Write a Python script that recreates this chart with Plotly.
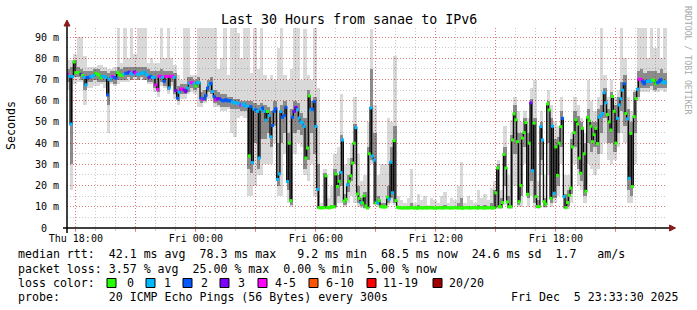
import plotly.graph_objects as go
import pandas as pd

# ---------------- data ----------------
TITLE = "Last 30 Hours from sanae to IPv6"
X_RANGE = ["2025-12-04 17:33:30", "2025-12-05 23:33:30"]
MEDIAN_START = "2025-12-04 17:35:00"   # 5-minute steps
SMOKE_START = "2025-12-04 17:37:30"    # 10-minute smoke columns

# median rtt (ms), one value per 5 minutes
median_ms = [
    72.5, 71.5, 49, 71.4, 78.3, 73.3, 73.3, 73, 72.5, 72, 71, 67.5,
    71, 71, 71.5, 71.5, 72, 73, 72.5, 72, 70.8, 71.5, 71.5, 71,
    62.7, 70, 71, 71.5, 71, 70.6, 73.3, 72.5, 72, 72, 72.5, 73,
    73, 73.5, 73, 72.5, 73.5, 73, 72.5, 72.5, 73, 73, 73.5, 72.5,
    72, 71, 71.5, 71, 71, 67.5, 65.4, 71.5, 71.5, 71, 69.1, 71.5,
    71.5, 66, 71.5, 71.5, 71, 64.8, 61.2, 64, 65.5, 65.5, 65, 64.3,
    66, 68.2, 68.5, 68.5, 68, 67, 68.5, 68.5, 61.2, 60.7, 61, 62.4,
    65.9, 67.5, 68.2, 64.3, 61.9, 60.4, 61, 61, 60.5, 60, 60, 60.5,
    60, 60, 60, 59.5, 59.1, 59, 58.8, 58.5, 57.9, 58, 58.5, 57.5,
    57.5, 34, 57.2, 30.8, 56, 55.7, 55, 33, 56, 56.6, 55, 50.9,
    54.9, 53, 43, 48.3, 55, 56.3, 22.9, 25.5, 54.9, 52.2, 53, 56.9,
    21.9, 40, 12.9, 52.2, 55, 56.9, 55.7, 51.9, 50, 49.5, 47.9, 33,
    37.7, 62.3, 55.7, 56, 59.6, 47.9, 18.2, 9.6, 9.5, 9.5, 9.6, 24.6,
    9.6, 9.5, 9.8, 10, 10, 25.5, 19.6, 22, 26.2, 41.5, 12.7, 13.5,
    20.4, 22, 24.6, 30.6, 40, 47.3, 16, 14, 12, 11.8, 15.2, 10.4,
    9.4, 35, 56.6, 33.9, 32, 11.8, 12, 13, 10, 10, 9.8, 10,
    14.5, 13.7, 31, 16.6, 41.2, 12.9, 9.8, 9.5, 9.5, 9.4, 9.5, 9.5,
    9.4, 9.5, 9.5, 9.6, 9.4, 9.5, 9.3, 9.5, 9.6, 9.4, 9.5, 9.5,
    9.4, 9.6, 9.5, 9.5, 9.4, 9.3, 9.5, 9.6, 9.5, 9.4, 9.5, 9.5,
    9.6, 9.5, 9.4, 9.5, 9.5, 9.6, 9.4, 9.5, 9.5, 9.3, 9.5, 9.6,
    9.5, 9.4, 9.5, 9.5, 9.6, 9.5, 9.4, 9.5, 9.6, 9.5, 9.4, 9.5,
    9.5, 9.6, 9.5, 9.4, 9.5, 16.6, 28.3, 10, 10, 12, 34.7, 28.3,
    12.3, 10, 10, 41.5, 53.8, 51, 40.7, 12.4, 20, 42.4, 45, 49.7,
    15.9, 40, 59, 27, 49.4, 14.8, 10.1, 10.1, 47.8, 41.5, 12.4, 11.3,
    58.5, 55.7, 14, 48, 16.4, 38.2, 24.8, 40, 47.8, 51.7, 14.8, 9.6,
    12, 15.4, 18.8, 38.2, 45, 51, 49, 32.9, 25.8, 47, 35, 17.3,
    52.2, 50.6, 48, 40.7, 44, 47, 39.8, 52.2, 53, 54, 63.8, 59,
    53.5, 50, 46.2, 62, 55, 40, 51.7, 58, 61, 65, 68, 54,
    51.4, 23.4, 44.6, 19.5, 52.5, 61, 65.4, 70.1, 70.1, 69, 68, 69,
    69, 69.5, 69, 69.8, 69.5, 68, 68.5, 69, 70, 68.5, 69, 68.5,
]

# lost pings (out of 20) per 5 minutes
loss = [
    4, 1, 1, 1, 0, 0, 0, 0, 3, 0, 1, 1,
    2, 2, 1, 1, 1, 0, 0, 0, 0, 1, 1, 1,
    2, 1, 1, 4, 2, 2, 0, 0, 0, 0, 1, 2,
    2, 3, 1, 1, 3, 4, 1, 1, 1, 1, 1, 1,
    1, 3, 2, 1, 1, 4, 4, 4, 4, 1, 2, 4,
    4, 1, 4, 4, 1, 3, 2, 1, 4, 4, 3, 3,
    1, 1, 4, 4, 1, 0, 1, 1, 2, 4, 2, 2,
    2, 1, 2, 1, 2, 4, 3, 3, 2, 2, 2, 2,
    2, 2, 2, 1, 1, 1, 1, 1, 4, 1, 1, 1,
    1, 0, 2, 1, 1, 2, 1, 1, 1, 2, 1, 1,
    0, 1, 1, 2, 2, 2, 1, 1, 1, 2, 2, 2,
    1, 0, 0, 2, 3, 3, 1, 1, 1, 1, 1, 0,
    0, 0, 1, 2, 2, 1, 1, 0, 0, 0, 0, 0,
    0, 0, 0, 0, 0, 0, 0, 0, 1, 1, 0, 0,
    1, 0, 0, 0, 0, 1, 0, 0, 1, 0, 0, 0,
    0, 0, 1, 1, 1, 0, 1, 0, 0, 0, 0, 0,
    0, 1, 1, 1, 0, 0, 0, 0, 0, 0, 0, 0,
    0, 0, 0, 0, 0, 0, 0, 0, 0, 0, 0, 0,
    0, 0, 0, 0, 0, 0, 0, 0, 0, 0, 0, 0,
    0, 0, 0, 0, 0, 0, 0, 0, 0, 0, 0, 0,
    0, 0, 0, 0, 0, 0, 0, 0, 0, 0, 0, 0,
    0, 0, 0, 0, 0, 0, 0, 0, 0, 0, 0, 0,
    0, 0, 0, 0, 0, 0, 0, 0, 0, 0, 0, 0,
    0, 0, 3, 1, 0, 0, 0, 0, 1, 1, 0, 0,
    0, 0, 0, 1, 1, 0, 0, 0, 0, 2, 1, 0,
    0, 0, 0, 0, 0, 0, 0, 0, 0, 0, 0, 0,
    0, 0, 0, 0, 0, 0, 0, 1, 1, 1, 1, 1,
    0, 0, 0, 0, 0, 0, 1, 1, 1, 1, 2, 0,
    1, 1, 0, 0, 0, 0, 1, 4, 4, 2, 2, 2,
    1, 1, 1, 0, 0, 0, 2, 2, 2, 1, 1, 1,
]

# smoke (spread of the 20 pings), one column per 10 minutes
smoke_lo = [
    65, 18, 68, 69, 69, 58, 66, 66, 67, 67, 68, 66, 45,
    68, 67, 68, 69, 69, 69, 70, 70, 70, 70, 70, 68, 68,
    64, 62, 67, 66, 63, 67, 61, 58, 61, 61, 63, 64, 63, 57, 57, 59, 61, 60, 57,
    57, 55, 55, 56, 45, 43, 52, 53, 52, 15, 15, 20, 25, 25, 30, 30,
    30, 40, 15, 15, 35, 12, 10, 35, 40, 38, 25, 22, 30, 15, 9,
    9, 9, 9, 9, 9.5, 12, 12, 10, 12, 15, 12, 10, 9.5, 9, 9,
    30, 11, 10, 9.5, 9.5, 11, 12, 11, 9, 9,
    9, 9, 9, 9, 9, 9, 9, 9, 9, 9, 9, 9, 9, 9, 9, 9, 9, 9, 9, 9, 9, 9, 9, 9, 9, 9, 9,
    9, 9, 9, 11, 9, 9, 20, 10,
    10, 30, 10, 15, 9.5, 9, 25, 9.5, 25, 10, 12, 15, 30, 9,
    9, 12, 30, 20, 18, 12, 30, 28, 25, 28, 35, 40, 32, 30,
    32, 38, 45, 40, 12, 12, 30, 60, 64, 64, 64, 65, 64, 64, 65, 64,
]
smoke_hi = [
    79, 79, 82, 90, 90, 81, 76, 76, 76, 77, 77, 76, 75,
    75, 76, 95, 78, 95, 80, 95, 82, 95, 95, 95, 78, 80,
    78, 78, 95, 80, 95, 80, 77, 72, 70, 95, 95, 72, 72, 95, 95, 95, 95, 95, 95,
    75, 80, 95, 72, 95, 95, 92, 80, 95, 95, 73, 95, 75, 95, 72, 70,
    72, 70, 85, 95, 72, 70, 75, 95, 95, 70, 94, 72, 70, 95, 66,
    12, 28, 14, 20, 35, 38, 63, 30, 33, 40, 62, 35, 22, 25, 50,
    94, 58, 25, 30, 30, 52, 50, 81, 15, 13,
    12, 14, 28, 12, 16, 13, 15, 11, 14, 13, 12, 15, 17, 12, 14, 13, 20, 31, 12, 15, 13, 12, 18, 14, 16, 13, 19,
    22, 32, 18, 48, 25, 51, 62, 55,
    50, 55, 52, 66, 70, 22, 55, 25, 65, 58, 50, 48, 62, 25,
    25, 45, 62, 58, 52, 45, 70, 60, 55, 62, 95, 72, 62, 70,
    62, 65, 95, 80, 62, 55, 65, 95, 95, 95, 80, 95, 85, 95, 80, 95,
]
core_lo = [
    69, 30, 71, 71, 70, 65, 69, 69, 70, 69, 69, 69, 58,
    69, 68, 70, 70, 70, 71, 70, 71, 70, 71, 70, 69, 69,
    66, 64, 69, 67, 65, 69, 63, 60, 63, 63, 64, 66, 65, 66, 59, 60, 64, 63, 59,
    58, 57, 57, 57, 56, 56, 56, 55, 55, 28, 26, 40, 28, 42, 42, 45,
    38, 48, 20, 40, 45, 18, 11, 45, 46, 44, 28, 32, 45, 35, 9.4,
    9.3, 9.4, 9.3, 9.5, 9.8, 15, 20, 11, 17, 22, 30, 12, 10.5, 9.5, 9.2,
    32, 11.5, 11, 9.5, 9.4, 12, 14, 12, 9.3, 9.2,
    9.2, 9.2, 9.2, 9.2, 9.2, 9.2, 9.2, 9.2, 9.2, 9.2, 9.2, 9.2, 9.2, 9.2, 9.2, 9.2, 9.2, 9.2, 9.2, 9.2, 9.2, 9.2, 9.2, 9.2, 9.2, 9.2, 9.2,
    9.4, 9.8, 9.6, 20, 9.6, 9.8, 35, 11,
    15, 38, 14, 22, 12, 9.5, 32, 10, 40, 12, 14, 20, 38, 9.4,
    10.5, 16, 38, 28, 22, 15, 40, 36, 38, 35, 45, 52, 40, 40,
    36, 45, 55, 48, 18, 15, 45, 62, 66, 66, 66, 67, 65, 66, 66, 66,
]
core_hi = [
    75, 76, 79, 76, 75, 74, 74, 74, 75, 75, 74, 74, 73,
    74, 74, 76, 75, 76, 76, 76, 76, 76, 76, 76, 75, 74,
    74, 74, 75, 74, 74, 74, 73, 67, 68, 68, 71, 71, 70, 71, 64, 65, 70, 71, 65,
    64, 63, 63, 62, 62, 61, 61, 60, 60, 60, 60, 59, 58, 59, 58, 57,
    55, 60, 40, 58, 60, 45, 56, 60, 59, 54, 52, 65, 60, 62, 30,
    10, 26, 10.5, 11, 28, 25, 44, 16, 25, 33, 49, 20, 14, 17, 38,
    75, 45, 15, 12, 12, 20, 38, 48, 10.5, 10,
    10, 10.5, 12, 10, 11, 10, 10.5, 10, 10.5, 10, 10, 10.5, 11, 10, 10, 10, 12, 14, 10, 10.5, 10, 10, 11, 10.5, 11, 10, 12,
    18, 30, 14, 38, 15, 44, 58, 45,
    45, 52, 45, 61, 52, 13, 50, 14, 60, 52, 42, 43, 55, 16,
    18, 42, 55, 53, 50, 40, 56, 50, 50, 56, 58, 66, 56, 64,
    58, 62, 69, 72, 56, 50, 64, 74, 75, 73, 74, 74, 74, 73, 75, 73,
]

x_tickvals = ["2025-12-04 18:00", "2025-12-04 21:00", "2025-12-05 00:00", "2025-12-05 03:00",
              "2025-12-05 06:00", "2025-12-05 09:00", "2025-12-05 12:00", "2025-12-05 15:00",
              "2025-12-05 18:00", "2025-12-05 21:00"]
x_ticktext = ["Thu 18:00", "", "Fri 00:00", "", "Fri 06:00", "", "Fri 12:00", "", "Fri 18:00", ""]
y_tickvals = [0, 10, 20, 30, 40, 50, 60, 70, 80, 90]
y_ticktext = ["0\u00a0\u00a0", "10 m", "20 m", "30 m", "40 m", "50 m", "60 m", "70 m", "80 m", "90 m"]

loss_labels = ["0", "1", "2", "3", "4-5", "6-10", "11-19", "20/20"]
loss_upper = [0, 1, 2, 3, 5, 10, 19, 20]
loss_colors = ["#26ff00", "#00b8ff", "#0059ff", "#7e00ff", "#ff00ff", "#ff5500", "#ff0000", "#a10000"]

legend_rtt = "median rtt:  42.1 ms avg  78.3 ms max   9.2 ms min  68.5 ms now  24.6 ms sd  1.7   am/s"
legend_loss = "packet loss: 3.57 % avg  25.00 % max  0.00 % min  5.00 % now"
legend_color = "loss color:"
legend_probe = "probe:       20 ICMP Echo Pings (56 Bytes) every 300s"
stamp = "Fri Dec  5 23:33:30 2025"
credit = "RRDTOOL / TOBI OETIKER"

assert len(median_ms) == len(loss) == 360, (len(median_ms), len(loss))
assert len(smoke_lo) == len(smoke_hi) == len(core_lo) == len(core_hi) == 180, \
    (len(smoke_lo), len(smoke_hi), len(core_lo), len(core_hi))

# ---------------- layout geometry ----------------
W, H = 697, 310
L, R, T, B = 67, 30, 28, 82
PW, PH = W - L - R, H - T - B
MONO = "DejaVu Sans Mono"


def px(x):
    return (x - L) / PW


def py(y):
    return (H - B - y) / PH


def nb(s):
    return s.replace(" ", "\u00a0")


t_med = pd.date_range(MEDIAN_START, periods=len(median_ms), freq="5min")
t_smk = pd.date_range(SMOKE_START, periods=len(smoke_lo), freq="10min")


def bucket_color(n):
    for up, c in zip(loss_upper, loss_colors):
        if n <= up:
            return c
    return loss_colors[-1]


med_colors = [bucket_color(n) for n in loss]

fig = go.Figure()
fig.add_trace(go.Bar(
    x=t_smk, base=smoke_lo, y=[h - l for l, h in zip(smoke_lo, smoke_hi)],
    width=600000, marker=dict(color="rgba(0,0,0,0.15)", line=dict(width=0)),
    hoverinfo="skip", showlegend=False))
fig.add_trace(go.Bar(
    x=t_smk, base=core_lo, y=[h - l for l, h in zip(core_lo, core_hi)],
    width=600000, marker=dict(color="rgba(0,0,0,0.36)", line=dict(width=0)),
    hoverinfo="skip", showlegend=False))
fig.add_trace(go.Scatter(
    x=t_med, y=median_ms, mode="lines",
    line=dict(color="#000000", width=1.2, shape="hvh"),
    hoverinfo="skip", showlegend=False))
fig.add_trace(go.Scatter(
    x=t_med, y=median_ms, mode="markers",
    marker=dict(symbol="square", size=3, color=med_colors, line=dict(width=0)),
    hoverinfo="skip", showlegend=False))

RED_GRID = "rgba(255,0,0,0.42)"
GRAY_GRID = "rgba(140,140,140,0.45)"

fig.update_layout(
    width=W, height=H, autosize=False,
    margin=dict(l=L, r=R, t=T, b=B, pad=0),
    paper_bgcolor="white", plot_bgcolor="white",
    barmode="overlay", bargap=0,
    font=dict(family=MONO, size=10, color="black"),
    xaxis=dict(
        type="date", range=X_RANGE, tickmode="array",
        tickvals=x_tickvals, ticktext=x_ticktext,
        showgrid=True, gridcolor=RED_GRID, griddash="1px,2px", gridwidth=1,
        ticks="outside", ticklen=3, tickcolor=RED_GRID, ticklabelstandoff=-2,
        showline=False, zeroline=False, fixedrange=True,
        tickfont=dict(family=MONO, size=10, color="black"),
        minor=dict(tickmode="linear", tick0="2025-12-04 00:00", dtick=3600000,
                   showgrid=True, gridcolor=GRAY_GRID, griddash="1px,2px",
                   ticks="outside", ticklen=2, tickcolor=GRAY_GRID),
    ),
    yaxis=dict(
        range=[0, 94.3], tickmode="array", tickvals=y_tickvals, ticktext=y_ticktext,
        showgrid=True, gridcolor=RED_GRID, griddash="1px,2px", gridwidth=1,
        ticks="", ticklabelstandoff=7, showline=False, zeroline=False, fixedrange=True,
        tickfont=dict(family=MONO, size=10, color="black"),
        minor=dict(tickmode="linear", tick0=0, dtick=5, showgrid=True,
                   gridcolor=GRAY_GRID, griddash="1px,2px"),
    ),
)

ann = []


def text(x, y, s, size=11.6, xanchor="left", color="black", angle=0):
    ann.append(dict(x=px(x), y=py(y), xref="paper", yref="paper", text=nb(s),
                    showarrow=False, xanchor=xanchor, yanchor="middle",
                    textangle=angle, font=dict(family=MONO, size=size, color=color)))


text(348.5, 19, TITLE, size=13.3, xanchor="center")
text(11, 126, "Seconds", size=11.6, xanchor="center", angle=-90)
text(688, 60, credit, size=8.2, xanchor="center", color="#a8a8a8", angle=90)
text(16, 254, legend_rtt)
text(16, 268.5, legend_loss)
text(16, 283, legend_color)
text(16, 297, legend_probe)
text(681, 297, stamp, xanchor="right")

box_left = [107, 146, 183, 220, 258, 309, 367, 433]
label_left = [125, 162, 199, 236, 273, 324, 381, 447]
shapes = []
for bl, ll, lab, col in zip(box_left, label_left, loss_labels, loss_colors):
    shapes.append(dict(type="rect", xref="paper", yref="paper",
                       x0=px(bl), x1=px(bl + 9), y0=py(287.5), y1=py(278.5),
                       fillcolor=col, line=dict(color="black", width=1), layer="above"))
    text(ll, 283, lab)

# axes with arrows
shapes.append(dict(type="line", xref="paper", yref="paper", x0=px(63), x1=px(670),
                   y0=py(228), y1=py(228), line=dict(color="black", width=1.5), layer="above"))
shapes.append(dict(type="line", xref="paper", yref="paper", x0=px(67), x1=px(67),
                   y0=py(233), y1=py(25), line=dict(color="black", width=1.5), layer="above"))
shapes.append(dict(type="path", xref="paper", yref="paper",
                   path=f"M {px(669.5)},{py(225)} L {px(675.5)},{py(228)} L {px(669.5)},{py(231)} Z",
                   fillcolor="#8b1a1a", line=dict(color="#8b1a1a", width=1), layer="above"))
shapes.append(dict(type="path", xref="paper", yref="paper",
                   path=f"M {px(64)},{py(26)} L {px(67)},{py(20)} L {px(70)},{py(26)} Z",
                   fillcolor="#8b1a1a", line=dict(color="#8b1a1a", width=1), layer="above"))

fig.update_layout(annotations=ann, shapes=shapes)
fig.write_html("out.html", config={"displayModeBar": False})
